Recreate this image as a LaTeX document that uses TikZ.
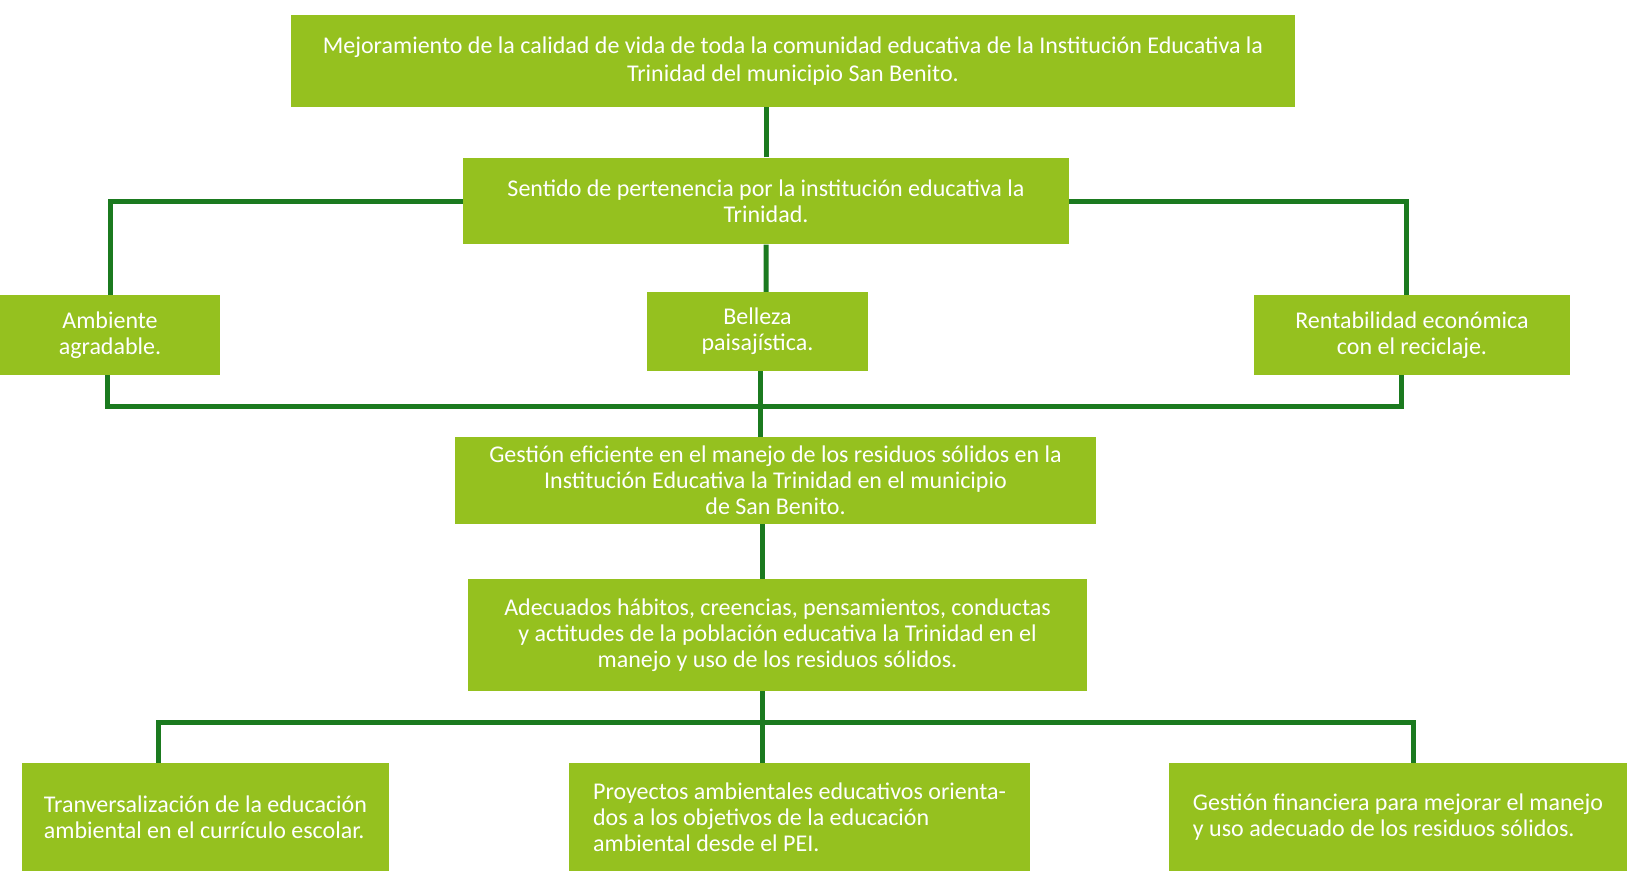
\documentclass[tikz,border=0pt]{standalone}
\usepackage{fontspec}
\setmainfont{Carlito}
\usetikzlibrary{positioning}
\definecolor{BoxGreen}{HTML}{95C11F}
\definecolor{LineGreen}{HTML}{1B7A1F}

\begin{document}
\begin{tikzpicture}[x=0.75pt, y=-0.75pt, every node/.style={fill=BoxGreen, text=white, inner sep=0pt, align=center, font=\fontsize{18}{19.5}\selectfont}, link/.style={draw=LineGreen, line width=3.75pt}]
  \useasboundingbox (0,0) rectangle (1627,871);
  \node (fin) [minimum width=753pt, minimum height=69pt, font=\fontsize{18}{20.5}\selectfont] at (793,61) {Mejoramiento de la calidad de vida de toda la comunidad educativa de la Institución Educativa la\\Trinidad del municipio San Benito.};
  \node (sent) [minimum width=454.5pt, minimum height=65pt] at (766,201) {Sentido de pertenencia por la institución educativa la\\Trinidad.};
  
  \node (amb) [minimum width=165pt, minimum height=60pt] at (110,335) {Ambiente\\agradable.};
  \node (bel) [minimum width=166pt, minimum height=59pt] at (757.5,331.5) {Belleza\\paisajística.};
  \node (renta) [minimum width=237pt, minimum height=60pt] at (1412,335) {Rentabilidad económica\\con el reciclaje.};
  
  \node (gest) [minimum width=481pt, minimum height=65pt] at (775.5,480.5) {Gestión eficiente en el manejo de los residuos sólidos en la\\Institución Educativa la Trinidad en el municipio\\de San Benito.};
  \node (adec) [minimum width=464pt, minimum height=84pt] at (777.5,635) {Adecuados hábitos, creencias, pensamientos, conductas\\y actitudes de la población educativa la Trinidad en el\\manejo y uso de los residuos sólidos.};
  
  \node (tranv) [minimum width=275pt, minimum height=81pt, align=left] at (205.5,817) {Tranversalización de la educación\\ambiental en el currículo escolar.};
  \node (proy) [minimum width=346pt, minimum height=81pt, align=left] at (799.5,817) {Proyectos ambientales educativos orienta-\\dos a los objetivos de la educación\\ambiental desde el PEI.};
  \node (fina) [minimum width=343.5pt, minimum height=81pt, align=left] at (1398,817) {Gestión financiera para mejorar el manejo\\y uso adecuado de los residuos sólidos.};
  
  \draw[link] (sent.north) -- ([xshift=-20.25pt]fin.south);
  \draw[link] (sent.west) -| (amb.north);
  \draw[link] (sent.east) -| ([xshift=-4.5pt]renta.north);
  \draw[link] (sent.south) -- ([xshift=6.4pt]bel.north);
  \draw[link] ([xshift=-2.25pt]amb.south) -- ++(0,31) -| ([xshift=-8.25pt]renta.south);
  \draw[link] ([xshift=1.9pt]bel.south) -- ([xshift=-11.6pt]gest.north);
  \draw[link] ([xshift=-9.4pt]gest.south) -- ([xshift=-10.9pt]adec.north);
  \draw[link] ([xshift=-10.9pt]adec.south) -- ([xshift=-27.4pt]proy.north);
  \draw[link] ([xshift=-35pt]tranv.north) -- ++(0,-40) -| ([xshift=11.25pt]fina.north);
\end{tikzpicture}
\end{document}
